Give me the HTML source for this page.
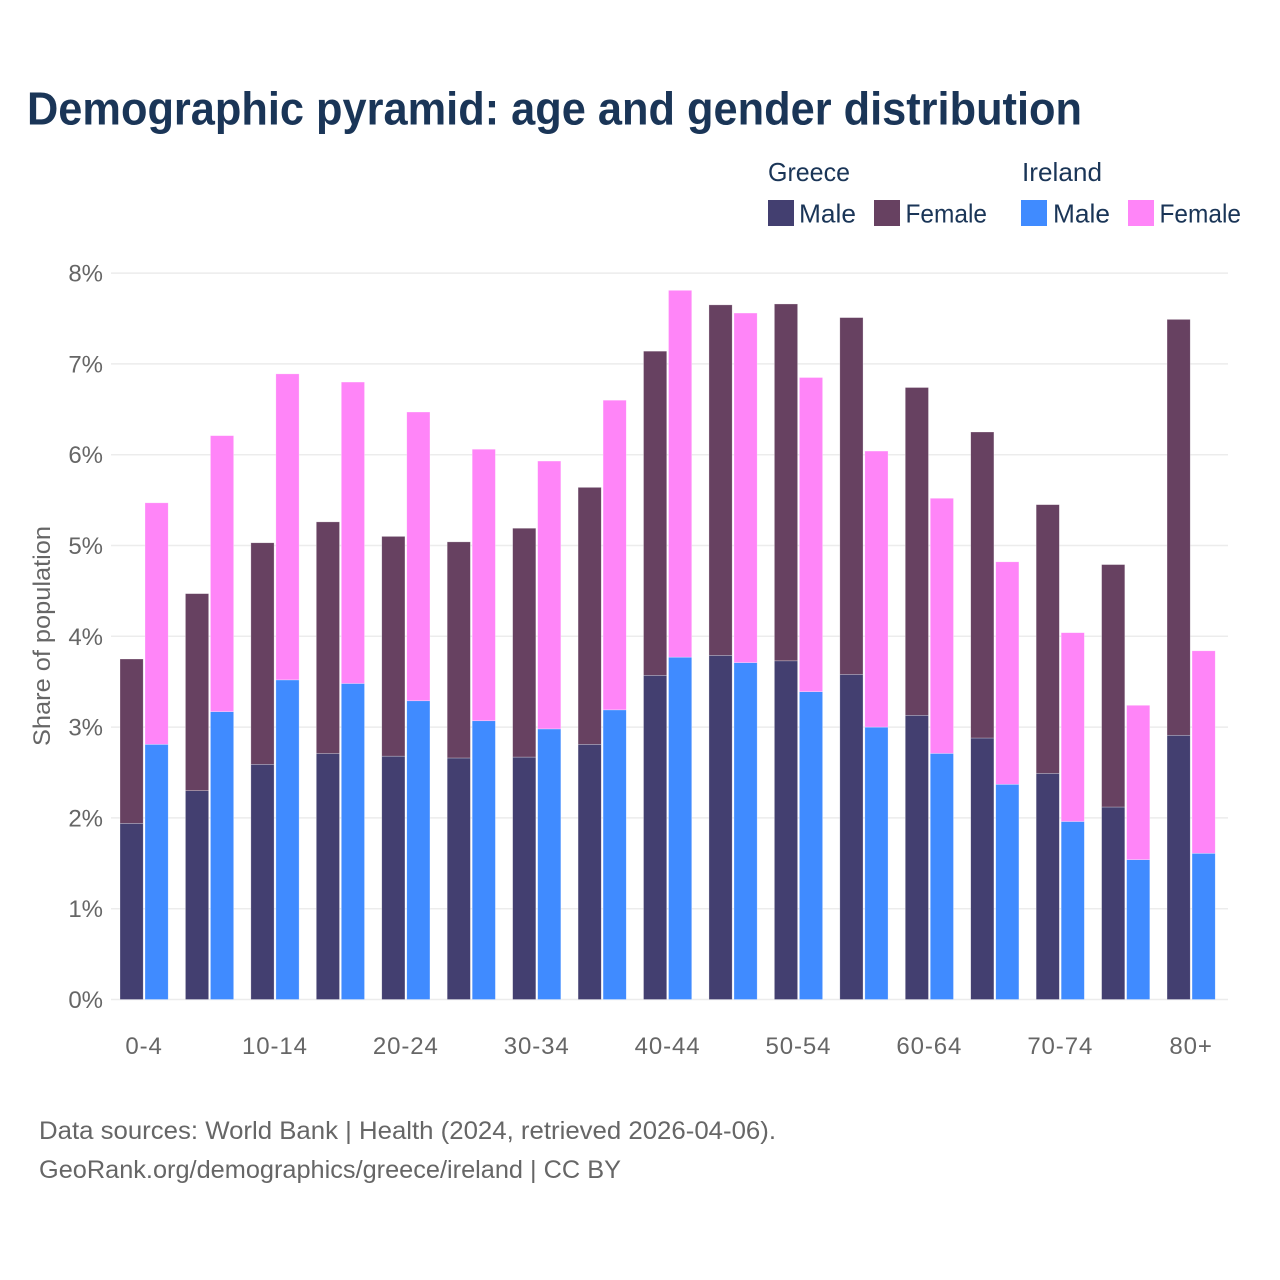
<!DOCTYPE html>
<html lang="en">
<head>
<meta charset="utf-8">
<title>Demographic pyramid</title>
<style>
html,body{margin:0;padding:0;background:#fff;width:1280px;height:1280px;overflow:hidden}
svg{display:block;font-family:"Liberation Sans",sans-serif}
</style>
</head>
<body>
<svg id="chart" width="1280" height="1280" viewBox="0 0 1280 1280" xmlns="http://www.w3.org/2000/svg">
  <rect x="0" y="0" width="1280" height="1280" fill="#ffffff"/>
  <text x="27" y="124.5" font-size="46" font-weight="700" fill="#1a3557" textLength="1055" lengthAdjust="spacingAndGlyphs">Demographic pyramid: age and gender distribution</text>

  <g font-size="26" fill="#1a3557">
    <text x="768" y="181" textLength="82" lengthAdjust="spacingAndGlyphs">Greece</text>
    <text x="1022" y="181" textLength="80" lengthAdjust="spacingAndGlyphs">Ireland</text>
    <rect x="768" y="200" width="26" height="26" fill="#433f70"/>
    <text x="799" y="222.5" textLength="57" lengthAdjust="spacingAndGlyphs">Male</text>
    <rect x="874" y="200" width="26" height="26" fill="#674161"/>
    <text x="905.5" y="222.5" textLength="81.5" lengthAdjust="spacingAndGlyphs">Female</text>
    <rect x="1021" y="200" width="26" height="26" fill="#408bff"/>
    <text x="1053" y="222.5" textLength="57" lengthAdjust="spacingAndGlyphs">Male</text>
    <rect x="1128" y="200" width="26" height="26" fill="#ff85f8"/>
    <text x="1159.5" y="222.5" textLength="81.5" lengthAdjust="spacingAndGlyphs">Female</text>
  </g>

  <g id="grid"></g>
  <g id="bars"></g>
  <g id="yticks"></g>
  <g id="xticks"></g>

  <text transform="translate(50,746) rotate(-90)" font-size="24" fill="#666666" textLength="220" lengthAdjust="spacingAndGlyphs">Share of population</text>

  <text x="39" y="1139" font-size="25" fill="#666666" textLength="737" lengthAdjust="spacingAndGlyphs">Data sources: World Bank | Health (2024, retrieved 2026-04-06).</text>
  <text x="39" y="1178" font-size="25" fill="#666666" textLength="582" lengthAdjust="spacingAndGlyphs">GeoRank.org/demographics/greece/ireland | CC BY</text>
</svg>
<script>
const categories = ["0-4","5-9","10-14","15-19","20-24","25-29","30-34","35-39","40-44","45-49","50-54","55-59","60-64","65-69","70-74","75-79","80+"];
const xTickLabels = ["0-4","10-14","20-24","30-34","40-44","50-54","60-64","70-74","80+"];
const yTickValues = [0,1,2,3,4,5,6,7,8];
const greeceMale = [1.94,2.30,2.59,2.71,2.68,2.66,2.67,2.81,3.57,3.79,3.73,3.58,3.13,2.88,2.49,2.12,2.91];
const greeceFemale = [1.81,2.17,2.44,2.55,2.42,2.38,2.52,2.83,3.57,3.86,3.93,3.93,3.61,3.37,2.96,2.67,4.58];
const irelandMale = [2.81,3.17,3.52,3.48,3.29,3.07,2.98,3.19,3.77,3.71,3.39,3.00,2.71,2.37,1.96,1.54,1.61];
const irelandFemale = [2.66,3.04,3.37,3.32,3.18,2.99,2.95,3.41,4.04,3.85,3.46,3.04,2.81,2.45,2.08,1.70,2.23];

const NS = "http://www.w3.org/2000/svg";
const y0 = 999.5, yPerUnit = 90.8;
const x0 = 111, bandStep = 65.44, barW = 23.2, barGap = 25;
function yScale(v){ return y0 - v * yPerUnit; }
function groupX(i){ return 120 + i * bandStep; }
function groupCenter(i){ return groupX(i) + (barGap + barW) / 2; }

const grid = document.getElementById("grid");
const yticks = document.getElementById("yticks");
yTickValues.forEach(function(v){
  const l = document.createElementNS(NS,"line");
  
  
  l.setAttribute("x1",x0);
  l.setAttribute("x2",1228);
  l.setAttribute("y1",yScale(v));
  l.setAttribute("y2",yScale(v));
  l.setAttribute("stroke","#ececec");
  l.setAttribute("stroke-width","1.5");
  grid.appendChild(l);
  const t = document.createElementNS(NS,"text");
  
  
  t.setAttribute("x",103);
  t.setAttribute("y",yScale(v)+8.5);
  t.setAttribute("text-anchor","end");
  t.setAttribute("font-size","24");
  t.setAttribute("fill","#666666");
  t.textContent = v + "%";
  yticks.appendChild(t);
});

const bars = document.getElementById("bars");
function addBar(x, base, val, color, name){
  const r = document.createElementNS(NS,"rect");
  
  
  r.setAttribute("x",x);
  r.setAttribute("y",yScale(base+val));
  r.setAttribute("width",barW);
  r.setAttribute("height",val*yPerUnit);
  r.setAttribute("fill",color);
  r.setAttribute("stroke","#ffffff");
  r.setAttribute("stroke-opacity","0.45");
  r.setAttribute("stroke-width","0.6");
  bars.appendChild(r);
}
categories.forEach(function(c,i){
  const x = groupX(i);
  addBar(x, 0, greeceMale[i], "#433f70", "bar-greece-male");
  addBar(x, greeceMale[i], greeceFemale[i], "#674161", "bar-greece-female");
  addBar(x+barGap, 0, irelandMale[i], "#408bff", "bar-ireland-male");
  addBar(x+barGap, irelandMale[i], irelandFemale[i], "#ff85f8", "bar-ireland-female");
});

const xticks = document.getElementById("xticks");
xTickLabels.forEach(function(lab){
  const t = document.createElementNS(NS,"text");
  
  
  t.setAttribute("x",groupCenter(categories.indexOf(lab)));
  t.setAttribute("y",1054);
  t.setAttribute("text-anchor","middle");
  t.setAttribute("font-size","24");
  t.setAttribute("letter-spacing","0.9");
  t.setAttribute("fill","#666666");
  t.textContent = lab;
  xticks.appendChild(t);
});
</script>
</body>
</html>
